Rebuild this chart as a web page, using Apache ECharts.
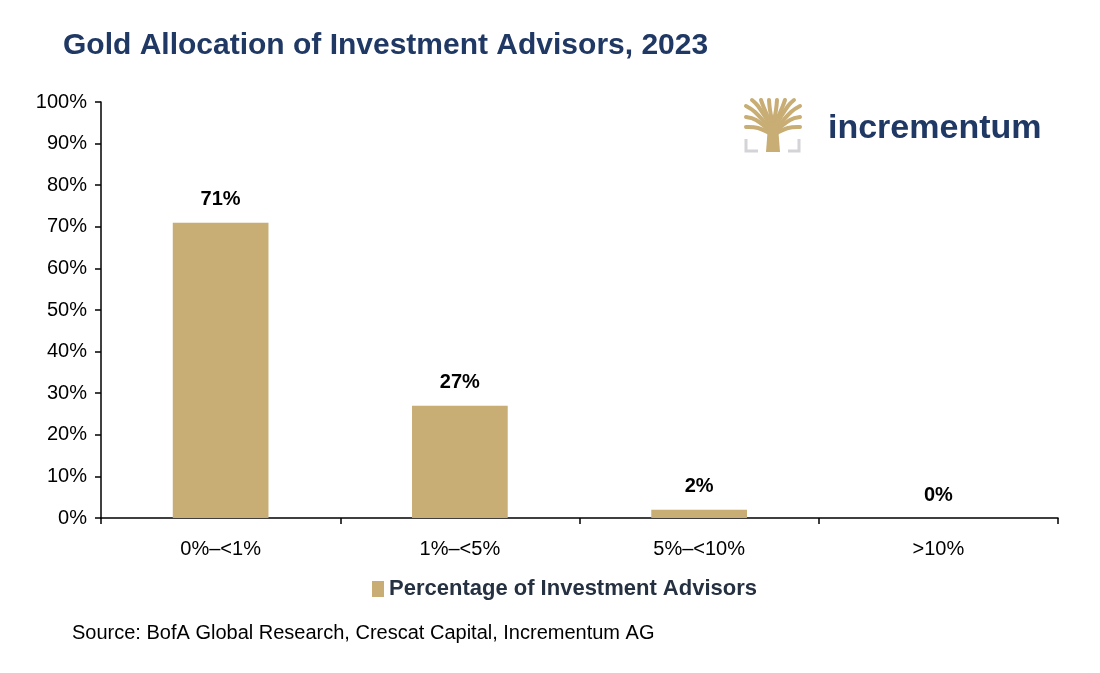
<!DOCTYPE html>
<html>
<head>
<meta charset="utf-8">
<script src="https://cdn.jsdelivr.net/npm/echarts@6/dist/echarts.min.js"></script>
<style>
html,body{margin:0;padding:0;background:#fff;}
#chart{width:1100px;height:673px;}
</style>
</head>
<body>
<div id="chart"></div>
<script>
const categories = ['0%–<1%', '1%–<5%', '5%–<10%', '>10%'];
const advisorShare = [71, 27, 2, 0];
const seriesName = 'Percentage of Investment Advisors';
const yTicks = [0, 10, 20, 30, 40, 50, 60, 70, 80, 90, 100];

const gold = '#c8ad74';
const navy = '#1f3864';
const FONT = 'Liberation Sans, Arial, sans-serif';

const chart = echarts.init(document.getElementById('chart'), null, {renderer: 'canvas'});

// simplified tree logo
const treeBranches = [
  [[771,134],[758,128],[746,127]],
  [[771,132],[756,120],[746,117]],
  [[771,130],[755,112],[746,106]],
  [[772,128],[758,106],[752,100]],
  [[772,126],[764,108],[761,100]],
  [[773,126],[770,110],[769,100]],
  [[773,126],[776,110],[777,100]],
  [[774,126],[782,108],[785,100]],
  [[774,128],[788,106],[794,100]],
  [[775,130],[791,112],[800,106]],
  [[775,132],[790,120],[800,117]],
  [[775,134],[788,128],[800,127]]
];
const logoGraphics = treeBranches.map(pts => ({
  type: 'polyline',
  shape: {points: pts, smooth: 0.4},
  style: {stroke: gold, lineWidth: 4, fill: null, lineCap: 'round'}
}));
logoGraphics.push(
  {type: 'polygon', shape: {points: [[766,152],[780,152],[778,126],[768,126]]}, style: {fill: gold}},
  {type: 'polyline', shape: {points: [[746,139],[746,151],[758,151]]}, style: {stroke: '#d4d4d8', lineWidth: 3, fill: null}},
  {type: 'polyline', shape: {points: [[788,151],[799,151],[799,139]]}, style: {stroke: '#d4d4d8', lineWidth: 3, fill: null}},
  {type: 'text', left: 828, top: 112, style: {text: 'incrementum', font: 'bold 34px ' + FONT, fill: navy}}
);

chart.setOption({
  animation: false,
  backgroundColor: '#fff',
  title: {
    text: 'Gold Allocation of Investment Advisors, 2023',
    left: 58, top: 26,
    textStyle: {fontFamily: FONT, fontSize: 30, fontWeight: 'bold', color: navy}
  },
  grid: {left: 101, right: 42, top: 102, bottom: 155, containLabel: false},
  legend: {
    data: [seriesName],
    left: 367, top: 573,
    itemWidth: 12, itemHeight: 16, itemGap: 6,
    icon: 'rect',
    textStyle: {fontFamily: FONT, fontSize: 22, fontWeight: 'bold', color: '#253040'}
  },
  xAxis: {
    type: 'category',
    data: categories,
    axisLine: {lineStyle: {color: '#000', width: 1.5}},
    axisTick: {show: true, alignWithLabel: false, length: 6, lineStyle: {color: '#000', width: 1.5}},
    axisLabel: {fontFamily: FONT, fontSize: 20, color: '#000', margin: 21}
  },
  yAxis: {
    type: 'value',
    min: 0, max: 100, interval: 10,
    axisLine: {show: true, lineStyle: {color: '#000', width: 1.5}},
    axisTick: {show: true, length: 6, lineStyle: {color: '#000', width: 1.5}},
    splitLine: {show: false},
    axisLabel: {fontFamily: FONT, fontSize: 20, color: '#000', margin: 14,
      formatter: v => yTicks.includes(v) ? v + '%' : ''}
  },
  series: [{
    name: seriesName,
    type: 'bar',
    data: advisorShare,
    barWidth: '40%',
    itemStyle: {color: gold},
    label: {
      show: true, position: 'top', distance: 13,
      formatter: p => p.value + '%',
      fontFamily: FONT, fontSize: 20, fontWeight: 'bold', color: '#000'
    }
  }],
  graphic: logoGraphics.concat([
    {type: 'text', left: 72, top: 623, style: {text: 'Source: BofA Global Research, Crescat Capital, Incrementum AG', font: '20px ' + FONT, fill: '#000'}}
  ])
});
</script>
</body>
</html>
